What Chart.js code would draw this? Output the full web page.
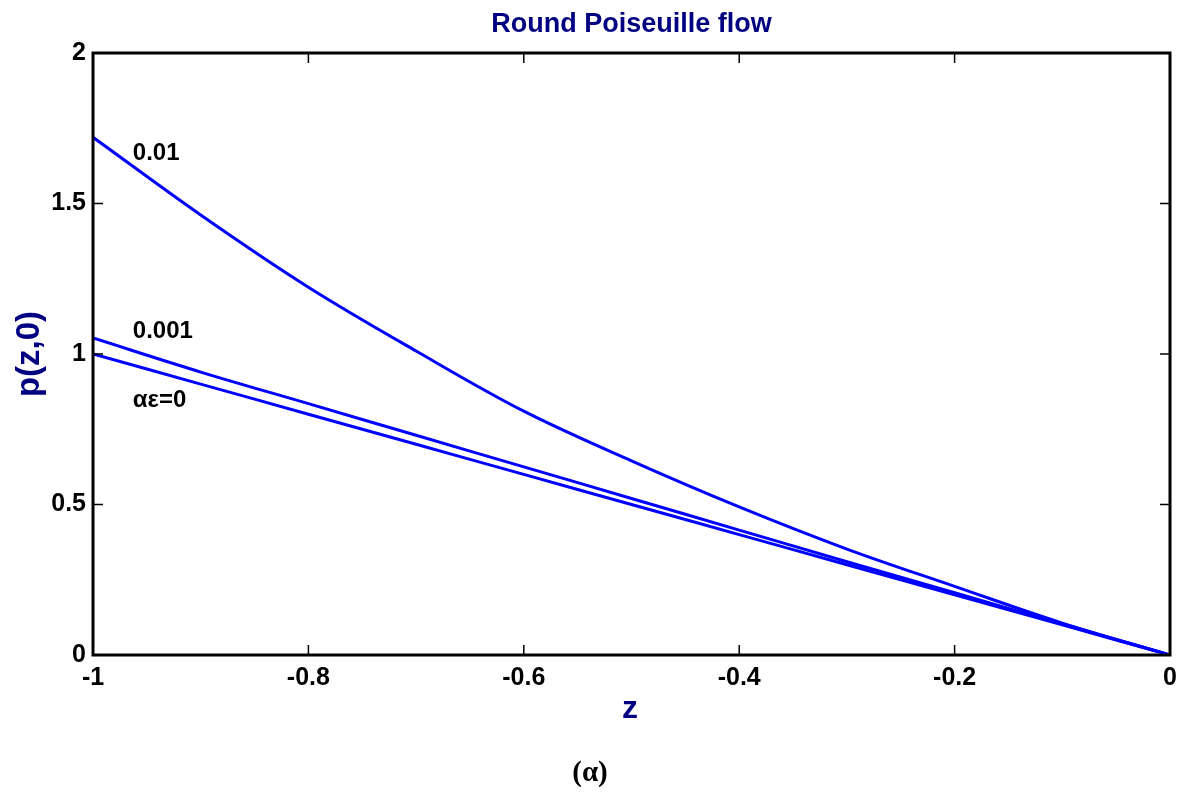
<!DOCTYPE html>
<html>
<head>
<meta charset="utf-8">
<script src="https://cdn.jsdelivr.net/npm/chart.js@4.4.1/dist/chart.umd.min.js"></script>
<style>
  html, body { margin: 0; padding: 0; background: #FFFFFF; }
  #wrap { width: 1190px; height: 794px; }
</style>
</head>
<body>
<div id="wrap"><canvas id="chart" width="1190" height="794"></canvas></div>
<script>
// z positions along the pipe
const zValues = [-1, -0.9, -0.8, -0.7, -0.6, -0.5, -0.4, -0.3, -0.2, -0.1, 0];

// p(z,0) for each value of alpha*epsilon
const pAe001 = [1.72, 1.462, 1.222, 1.01, 0.81, 0.645, 0.492, 0.352, 0.228, 0.106, 0];
const pAe0001 = [1.053, 0.94, 0.835, 0.73, 0.625, 0.52, 0.415, 0.31, 0.207, 0.103, 0];
const pAe0 = [1.0, 0.9, 0.8, 0.7, 0.6, 0.5, 0.4, 0.3, 0.2, 0.1, 0];

const xTicks = [-1, -0.8, -0.6, -0.4, -0.2, 0];
const yTicks = [0, 0.5, 1, 1.5, 2];

// curve labels: [text, z, p]
const curveLabels = [
  ["0.01", -0.963, 1.668],
  ["0.001", -0.963, 1.076],
  ["\u03B1\u03B5=0", -0.963, 0.847]
];

const COLORS = {
  line: "#0000FF",
  navy: "#000080",
  black: "#000000"
};

const FONT = "'Liberation Sans', Arial, sans-serif";

function toPoints(ys) {
  return zValues.map((z, i) => ({ x: z, y: ys[i] }));
}

function lineSet(label, ys) {
  return {
    label,
    data: toPoints(ys),
    showLine: true,
    borderColor: COLORS.line,
    backgroundColor: COLORS.line,
    borderWidth: 3,
    pointRadius: 0,
    tension: 0.35,
    fill: false
  };
}

function fmt(v) {
  return String(Number(v.toFixed(1)));
}

const framePlugin = {
  id: "framePlugin",
  afterDraw(chart) {
    const ctx = chart.ctx;
    const a = chart.chartArea;
    const xs = chart.scales.x;
    const ys = chart.scales.y;

    ctx.save();
    // box
    ctx.strokeStyle = COLORS.black;
    ctx.lineWidth = 3;
    ctx.strokeRect(a.left, a.top, a.right - a.left, a.bottom - a.top);

    // inward tick marks on all four sides
    ctx.lineWidth = 1.5;
    ctx.beginPath();
    xTicks.slice(1, -1).forEach((v) => {
      const px = xs.getPixelForValue(v);
      ctx.moveTo(px, a.bottom);
      ctx.lineTo(px, a.bottom - 10);
      ctx.moveTo(px, a.top);
      ctx.lineTo(px, a.top + 10);
    });
    yTicks.slice(1, -1).forEach((v) => {
      const py = ys.getPixelForValue(v);
      ctx.moveTo(a.left, py);
      ctx.lineTo(a.left + 10, py);
      ctx.moveTo(a.right, py);
      ctx.lineTo(a.right - 10, py);
    });
    ctx.stroke();

    // title
    const midX = (a.left + a.right) / 2;
    ctx.fillStyle = COLORS.navy;
    ctx.textAlign = "center";
    ctx.textBaseline = "middle";
    ctx.font = `bold 27px ${FONT}`;
    ctx.fillText("Round Poiseuille flow", midX, 25);

    // x axis title
    ctx.font = `bold 32px ${FONT}`;
    ctx.fillText("z", 630, 709);

    // y axis title
    ctx.save();
    ctx.translate(30, (a.top + a.bottom) / 2);
    ctx.rotate(-Math.PI / 2);
    ctx.font = `bold 33px ${FONT}`;
    ctx.fillText("p(z,0)", 0, 0);
    ctx.restore();

    // figure caption
    ctx.fillStyle = COLORS.black;
    ctx.font = `bold 29px "Liberation Serif", "Times New Roman", serif`;
    ctx.fillText("(\u03B1)", 590, 774);

    // curve labels
    ctx.textAlign = "left";
    ctx.font = `bold 24px ${FONT}`;
    curveLabels.forEach(([text, z, p]) => {
      ctx.fillText(text, xs.getPixelForValue(z), ys.getPixelForValue(p));
    });
    ctx.restore();
  }
};

new Chart(document.getElementById("chart"), {
  type: "scatter",
  data: {
    datasets: [
      lineSet("0.01", pAe001),
      lineSet("0.001", pAe0001),
      lineSet("0", pAe0)
    ]
  },
  options: {
    responsive: false,
    animation: false,
    layout: { padding: { top: 53, right: 20, left: 0, bottom: 0 } },
    plugins: {
      legend: { display: false },
      tooltip: { enabled: false },
      title: { display: false }
    },
    scales: {
      x: {
        type: "linear",
        min: -1,
        max: 0,
        afterFit(scale) { scale.height = 139; },
        afterBuildTicks(scale) { scale.ticks = xTicks.map((v) => ({ value: v })); },
        grid: { display: false, drawTicks: false },
        border: { display: false },
        ticks: {
          padding: 8,
          color: COLORS.black,
          font: { family: FONT, size: 25, weight: "bold" },
          callback: (v) => fmt(v),
          maxRotation: 0,
          autoSkip: false
        }
      },
      y: {
        type: "linear",
        min: 0,
        max: 2,
        afterFit(scale) { scale.width = 93; },
        afterBuildTicks(scale) { scale.ticks = yTicks.map((v) => ({ value: v })); },
        grid: { display: false, drawTicks: false },
        border: { display: false },
        ticks: {
          padding: 7,
          color: COLORS.black,
          font: { family: FONT, size: 25, weight: "bold" },
          callback: (v) => fmt(v),
          autoSkip: false
        }
      }
    }
  },
  plugins: [framePlugin]
});
</script>
</body>
</html>
